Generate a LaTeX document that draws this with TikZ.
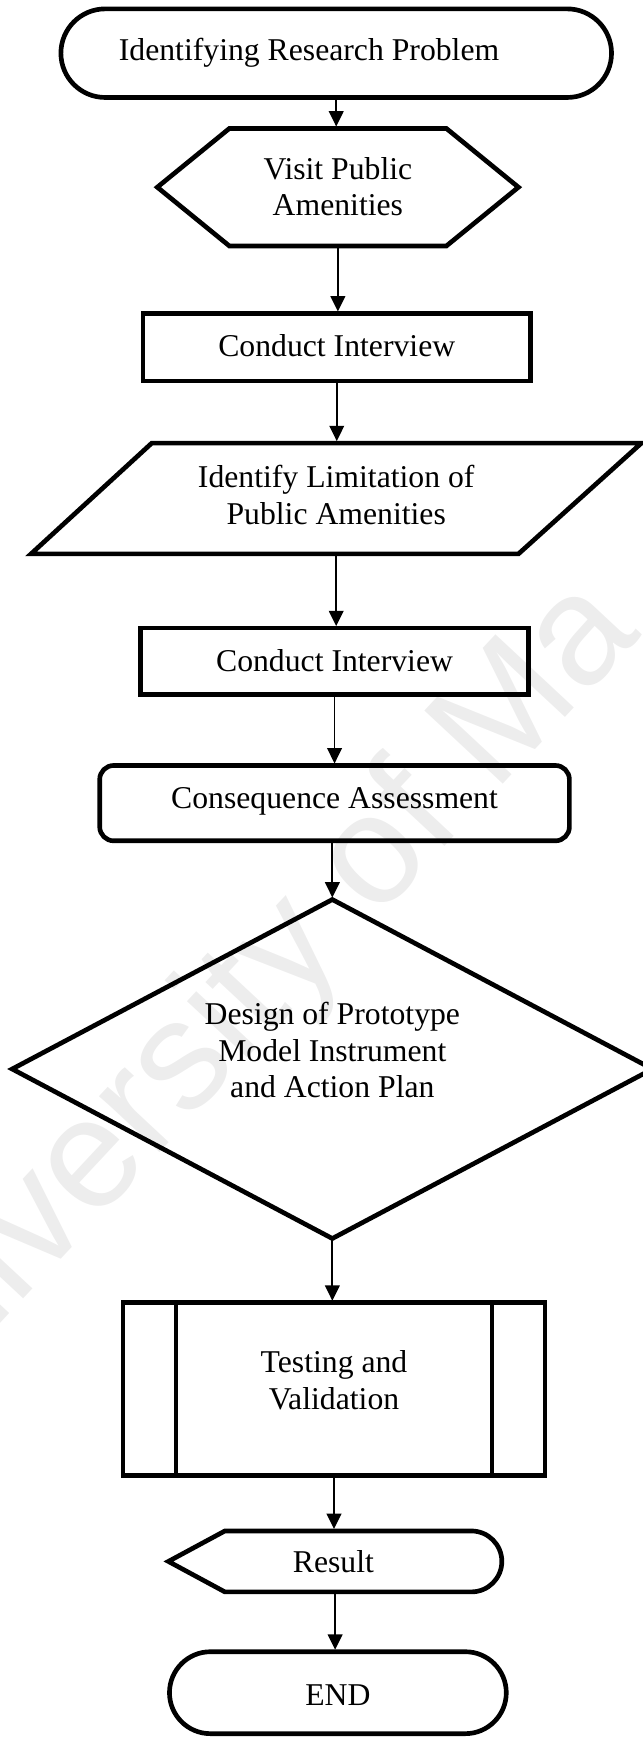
\documentclass[tikz,border=0pt]{standalone}
\usepackage{fontspec}
\setmainfont{Liberation Serif}
\newfontfamily\wmfont{Liberation Sans}
\usetikzlibrary{arrows.meta,calc,fit,shapes.misc}
\begin{document}
\begin{tikzpicture}[x=0.8315pt,y=-0.8315pt,
  shp/.style={line width=3.5pt, line join=miter},
  txt/.style={font=\fontsize{23.8}{27.4}\selectfont, align=center, inner sep=0pt},
  box/.style={draw=none, inner sep=0pt, outer sep=0pt},
  term/.style={draw, shp, rounded rectangle, outer sep=0pt, inner sep=0pt},
  arr/.style={line width=1.3pt, -{Triangle[width=11pt,length=11.5pt]}, shorten >=1.5pt},
  wm/.style={font=\wmfont\fontsize{117}{117}\selectfont, text=black!7, inner sep=0pt}
]
\useasboundingbox (0,0) rectangle (580,1568);
\begin{scope}
\clip (0,0) rectangle (580,1568);
\node[wm, rotate=47, anchor=base west] (wm) at (-108,1311) {University of Ma};
\end{scope}

% start
\node[term, minimum width=413.3pt, minimum height=66.5pt] (t1) at (303.5,48) {};
\node[txt] (t1t) at (279,48) {Identifying Research Problem};

% hexagon
\node[box, fit={(142,116) (468,222)}] (hex) {};
\draw[shp] (hex.west) -- ($(hex.north west)+(65,0)$) -- ($(hex.north east)+(-65,0)$) -- (hex.east) -- ($(hex.south east)+(-65,0)$) -- ($(hex.south west)+(65,0)$) -- cycle;
\node[txt] (hext) at (305,168.5) {Visit Public\\Amenities};

% conduct 1
\node[box, fit={(129,283) (479,344)}] (cb1) {};
\draw[shp] (cb1.north west) rectangle (cb1.south east);
\node[txt] (cb1t) at (304,312) {Conduct Interview};

% parallelogram
\node[box, fit={(28,400) (579,500)}] (para) {};
\draw[shp] ($(para.north west)+(109,0)$) -- (para.north east) -- ($(para.south east)+(-111,0)$) -- (para.south west) -- cycle;
\node[txt] (parat) at (303.5,447) {Identify Limitation of\\Public Amenities};

% conduct 2
\node[box, fit={(127,567) (477,627)}] (cb2) {};
\draw[shp] (cb2.north west) rectangle (cb2.south east);
\node[txt] (cb2t) at (302,596) {Conduct Interview};

% consequence
\node[box, fit={(90,691) (514,759)}] (cons) {};
\draw[shp, rounded corners=10.5pt] (cons.north west) rectangle (cons.south east);
\node[txt] (const) at (302,723) {Consequence Assessment};

% diamond
\node[box, fit={(11,812) (589,1118)}] (dia) {};
\draw[shp] (dia.north) -- (dia.east) -- (dia.south) -- (dia.west) -- cycle;
\node[txt] (diat) at (300,948) {Design of Prototype\\Model Instrument\\and Action Plan};

% predefined process
\node[box, fit={(111,1176) (492,1332)}] (test) {};
\draw[shp] (test.north west) rectangle (test.south east);
\draw[shp] ($(test.north west)+(48,0)$) -- ($(test.south west)+(48,0)$);
\draw[shp] ($(test.north east)+(-48,0)$) -- ($(test.south east)+(-48,0)$);
\node[txt] (testt) at (301.5,1246) {Testing and\\Validation};

% display
\node[box, fit={(152,1382) (453,1437)}] (res) {};
\draw[shp] (res.west) -- ($(res.north west)+(51,0)$) -- ($(res.north east)+(-27.5,0)$) arc[start angle=-90, end angle=90, radius=27.5] -- ($(res.south west)+(51,0)$) -- cycle;
\node[txt] (rest) at (301,1410) {Result};

% end
\node[term, minimum width=252.8pt, minimum height=61.5pt] (fin) at (305,1528) {};
\node[txt] (fint) at (305,1530) {END};

% arrows
\draw[arr] (t1.south) -- (t1.south |- hex.north);
\draw[arr] (hex.south) -- (hex.south |- cb1.north);
\draw[arr] (cb1.south) -- (cb1.south |- para.north);
\draw[arr] (para.south) -- (para.south |- cb2.north);
\draw[arr] (cb2.south) -- (cb2.south |- cons.north);
\draw[arr] (dia.north |- cons.south) -- (dia.north);
\draw[arr] (dia.south) -- (dia.south |- test.north);
\draw[arr] (test.south) -- (test.south |- res.north);
\draw[arr] (res.south) -- (res.south |- fin.north);
\end{tikzpicture}
\end{document}
